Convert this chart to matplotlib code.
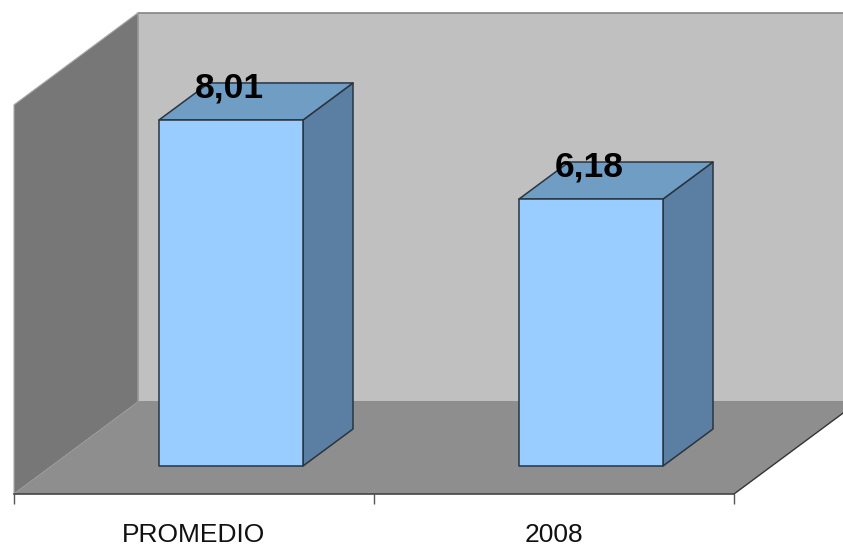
import matplotlib
matplotlib.use("Agg")
import matplotlib.pyplot as plt
from matplotlib.patches import Polygon

categories = ["PROMEDIO", "2008"]
values = [8.01, 6.18]
value_labels = ["8,01", "6,18"]
axis_max = 10.49

W, H = 843, 546
px_per_cat = 360.0
px_per_val = 43.2
origin_x, origin_y = 194.0, 466.0  # pixel position of category 0, value 0

plt.rcParams['font.family'] = ['Liberation Sans', 'DejaVu Sans']
fig = plt.figure(figsize=(W / 100, H / 100), dpi=100, facecolor='white')
ax = fig.add_axes([0, 0, 1, 1])
ax.set_xlim(-origin_x / px_per_cat, (W - origin_x) / px_per_cat)
ax.set_ylim((origin_y - H) / px_per_val, origin_y / px_per_val)

dx = lambda p: p / px_per_cat
dy = lambda p: p / px_per_val

# depth offsets
floor_dx, floor_dy = dx(124), dy(92)
bar_dx, bar_dy = dx(50), dy(37)
front_x, front_y = dx(37), dy(28)   # bars sit in from the front edge of the floor
bar_w = 144 / px_per_cat

x0, x1 = -0.5, 1.5
y0 = -front_y

def poly(pts, fc, ec='none', lw=0, z=1):
    ax.add_patch(Polygon(pts, closed=True, facecolor=fc, edgecolor=ec, linewidth=lw,
                         zorder=z, joinstyle='round'))

# back wall, left wall, floor
poly([(x0 + floor_dx, y0 + floor_dy), (x1 + floor_dx, y0 + floor_dy),
      (x1 + floor_dx, axis_max), (x0 + floor_dx, axis_max)], '#C0C0C0', '#858585', 1.2, 1)
poly([(x0, y0), (x0 + floor_dx, y0 + floor_dy),
      (x0 + floor_dx, axis_max), (x0, axis_max - floor_dy)], '#777777', '#A8A8A8', 0.8, 2)
poly([(x0, y0), (x1, y0), (x1 + floor_dx, y0 + floor_dy), (x0 + floor_dx, y0 + floor_dy)],
     '#8E8E8E', 'none', 0, 3)
ax.plot([x1, x1 + floor_dx], [y0, y0 + floor_dy], color='#333333', lw=1.0, zorder=4)

# bars
edge = '#2A3540'
for i, (v, lab) in enumerate(zip(values, value_labels)):
    l = i - bar_w / 2 + front_x
    r = l + bar_w
    poly([(r, 0), (r + bar_dx, bar_dy), (r + bar_dx, v + bar_dy), (r, v)], '#5B7FA3', edge, 1.1, 5)
    poly([(l, v), (r, v), (r + bar_dx, v + bar_dy), (l + bar_dx, v + bar_dy)], '#709DC4', edge, 1.1, 5)
    poly([(l, 0), (r, 0), (r, v), (l, v)], '#99CCFF', edge, 1.1, 6)
    ax.annotate(lab, xy=((l + r) / 2, v), xytext=(-1, 23), textcoords='offset points',
                ha='center', va='center', fontsize=25.5, fontweight='bold', color='black',
                zorder=8)

# category axis
for s in ['top', 'left', 'right']:
    ax.spines[s].set_visible(False)
ax.spines['bottom'].set_position(('data', y0))
ax.spines['bottom'].set_bounds(x0, x1)
ax.spines['bottom'].set_color('#444444')
ax.spines['bottom'].set_linewidth(1.2)
ax.spines['bottom'].set_zorder(7)
ax.patch.set_visible(False)
ax.set_yticks([])
ax.set_xticks([x0, 0.5, x1])
ax.set_xticklabels([])
ax.tick_params(axis='x', which='major', length=7, width=1.0, color='#555555')
ax.set_xticks(range(len(categories)), minor=True)
ax.set_xticklabels(categories, minor=True, fontsize=19, color='#111111')
ax.tick_params(axis='x', which='minor', length=0, pad=21)

fig.savefig('out.png', dpi=100, facecolor='white')
